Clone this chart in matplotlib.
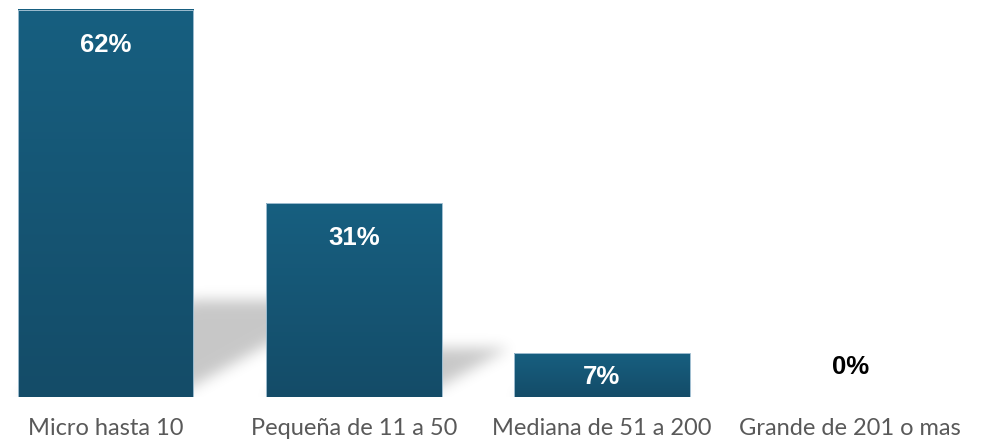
import matplotlib
matplotlib.use("Agg")
import matplotlib.pyplot as plt
import numpy as np

categories = ["Micro hasta 10", "Pequeña de 11 a 50", "Mediana de 51 a 200", "Grande de 201 o mas"]
values = [62, 31, 7, 0]
labels = ["62%", "31%", "7%", "0%"]

top_color = np.array([0x17, 0x5f, 0x80]) / 255.0
bottom_color = np.array([0x14, 0x4c, 0x68]) / 255.0


def blur(img, sigma):
    r = int(3 * sigma)
    k = np.exp(-0.5 * (np.arange(-r, r + 1) / sigma) ** 2)
    k /= k.sum()
    img = np.apply_along_axis(lambda m: np.convolve(m, k, mode="same"), 0, img)
    img = np.apply_along_axis(lambda m: np.convolve(m, k, mode="same"), 1, img)
    return img


def main():
    W, H = 981, 443
    fig = plt.figure(figsize=(W / 100, H / 100), dpi=100)
    base_px = 46
    ax = fig.add_axes([0, base_px / H, 1, (H - base_px) / H])
    x0, x1 = -0.425, 3.527
    ytop = 63.6
    ax.set_xlim(x0, x1)
    ax.set_ylim(0, ytop)

    xs = np.arange(len(categories))
    width = 0.709

    # soft perspective shadow behind the bars
    aw, ah = W, H - base_px
    px_x = aw / (x1 - x0)
    px_y = ah / ytop
    gx = np.linspace(x0, x1, aw)
    gy = np.linspace(0, ytop, ah)
    GX, GY = np.meshgrid(gx, gy)
    shade = np.zeros_like(GX)
    skew = 1.8 * px_y / px_x
    for x, v in zip(xs, values):
        if v <= 0:
            continue
        h = 0.25 * v
        left = x - width / 2 + skew * GY
        right = x + width / 2 - 0.08 + skew * GY
        m = (GY <= h) & (GX >= left) & (GX <= right)
        shade[m] = 1.0
    shade = blur(shade, 7)
    rgba = np.zeros(shade.shape + (4,))
    rgba[..., 3] = shade * 0.22
    ax.imshow(rgba, extent=(x0, x1, 0, ytop), origin="lower", aspect="auto",
              zorder=1, interpolation="bilinear")

    # gradient bars
    grad = np.linspace(0, 1, 256)[:, None, None]
    cols = bottom_color * (1 - grad) + top_color * grad
    for x, v in zip(xs, values):
        if v <= 0:
            continue
        ax.imshow(cols, extent=(x - width / 2, x + width / 2, 0, v), origin="lower",
                  aspect="auto", zorder=2, interpolation="bilinear")
        ax.bar(x, v, width=width, facecolor="none", edgecolor="#9fbdd0",
               linewidth=0.7, zorder=3)

    font_val = dict(fontsize=18.5, fontweight="bold", family="Liberation Sans", zorder=4)
    for x, v, lab in zip(xs, values, labels):
        hpx = v * px_y
        if hpx > 80:
            ax.annotate(lab, (x, v), xytext=(0, -35), textcoords="offset pixels",
                        ha="center", va="center", color="white", **font_val)
        elif v > 0:
            ax.annotate(lab, (x, v / 2), xytext=(0, -2), textcoords="offset pixels",
                        ha="center", va="center", color="white", **font_val)
        else:
            ax.annotate(lab, (x, 0), xytext=(0, 30), textcoords="offset pixels",
                        ha="center", va="center", color="black", **font_val)

    ax.set_xticks(xs)
    ax.set_xticklabels(categories, fontsize=17, color="#595959", family="Lato")
    ax.tick_params(axis="x", length=0, pad=15)
    ax.set_yticks([])
    for s in ax.spines.values():
        s.set_visible(False)

    fig.savefig("out.png", dpi=100)


if __name__ == "__main__":
    main()
